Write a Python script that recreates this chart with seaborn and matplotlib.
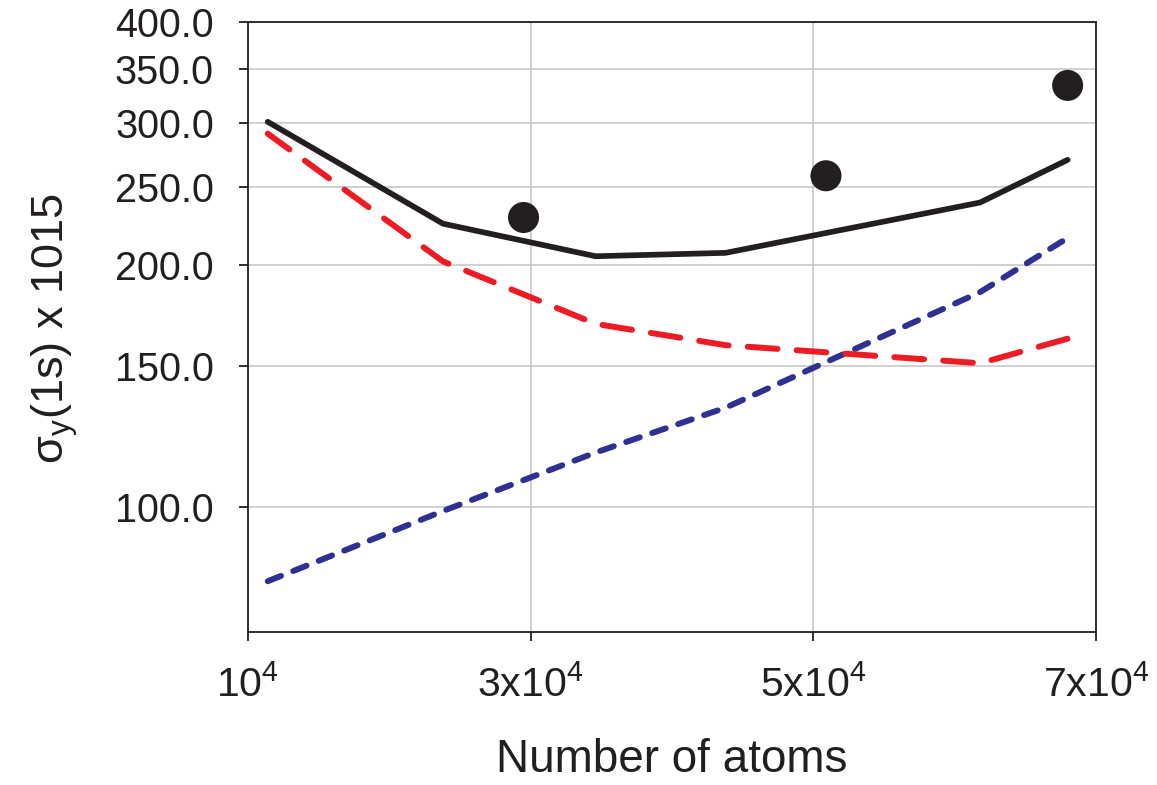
import matplotlib
matplotlib.use("Agg")
import matplotlib.pyplot as plt
from matplotlib.ticker import FixedLocator, FixedFormatter, NullLocator
import seaborn as sns

# Model curves: sigma_y(1s) x 10^15 versus number of atoms
n_atoms = [11400, 23800, 34600, 43800, 61800, 68000]
sigma_total = [301, 225, 205, 207, 239, 270]
sigma_red = [291, 202, 169, 159, 151, 162]
sigma_blue = [81, 99, 117, 133, 185, 216]

# Measured points
meas_atoms = [29500, 50900, 68000]
meas_sigma = [229, 258, 334]

y_ticks = [100, 150, 200, 250, 300, 350, 400]
y_tick_labels = ["100.0", "150.0", "200.0", "250.0", "300.0", "350.0", "400.0"]
x_ticks = [10000, 30000, 50000, 70000]
x_tick_labels = [r"$\mathregular{10^4}$", r"$\mathregular{3x10^4}$",
                 r"$\mathregular{5x10^4}$", r"$\mathregular{7x10^4}$"]

sns.set_style("white")
plt.rcParams["font.family"] = ["Liberation Sans", "DejaVu Sans"]
plt.rcParams["mathtext.fontset"] = "custom"
plt.rcParams["mathtext.rm"] = "Liberation Sans"

INK = "#231f20"
RED = "#ed1c24"
BLUE = "#2e3192"
GRID = "#c8c8c8"

fig = plt.figure(figsize=(11.57, 7.85), dpi=100)
ax = fig.add_axes([0.2143, 0.1945, 0.7329, 0.7771])

sns.lineplot(x=n_atoms, y=sigma_blue, ax=ax, color=BLUE, linewidth=4.3,
             linestyle=(0, (2.4, 2.2)), dash_capstyle="round", zorder=3)
sns.lineplot(x=n_atoms, y=sigma_red, ax=ax, color=RED, linewidth=4.3,
             linestyle=(0.5, (5.0, 3.2)), dash_capstyle="round", zorder=3)
sns.lineplot(x=n_atoms, y=sigma_total, ax=ax, color=INK, linewidth=4.1,
             solid_capstyle="round", zorder=4)
sns.scatterplot(x=meas_atoms, y=meas_sigma, ax=ax, s=500, color=INK,
                edgecolor="none", linewidth=0, zorder=5)

ax.set_yscale("log")
ax.set_ylim(70, 400)
ax.set_xlim(10000, 70000)
ax.yaxis.set_major_locator(FixedLocator(y_ticks))
ax.yaxis.set_major_formatter(FixedFormatter(y_tick_labels))
ax.yaxis.set_minor_locator(NullLocator())
ax.xaxis.set_major_locator(FixedLocator(x_ticks))
ax.xaxis.set_major_formatter(FixedFormatter(x_tick_labels))

ax.grid(True, color=GRID, lw=1.2, zorder=0)
ax.set_axisbelow(True)
for side in ["left", "right", "top", "bottom"]:
    ax.spines[side].set_visible(True)
    ax.spines[side].set_color(INK)
    ax.spines[side].set_linewidth(1.3)

ax.tick_params(axis="y", which="major", direction="out", length=6.5, width=1.3,
               color=INK, labelsize=28.5, labelcolor=INK, pad=18, left=True)
ax.tick_params(axis="x", which="major", direction="out", length=6.5, width=1.3,
               color=INK, labelcolor=INK, pad=17, bottom=True)
for lbl in ax.get_xticklabels():
    lbl.set_fontfamily(["Liberation Sans Narrow", "Liberation Sans"])
    lbl.set_fontsize(29.5)

ax.set_xlabel("Number of atoms", fontsize=33, color=INK, labelpad=24)
fig.text(0.047, 0.582, r"σ$_\mathregular{y}$(1s) x 1015", rotation=90,
         ha="center", va="center", fontsize=32.5, color=INK)

fig.savefig("out.png", dpi=100)
